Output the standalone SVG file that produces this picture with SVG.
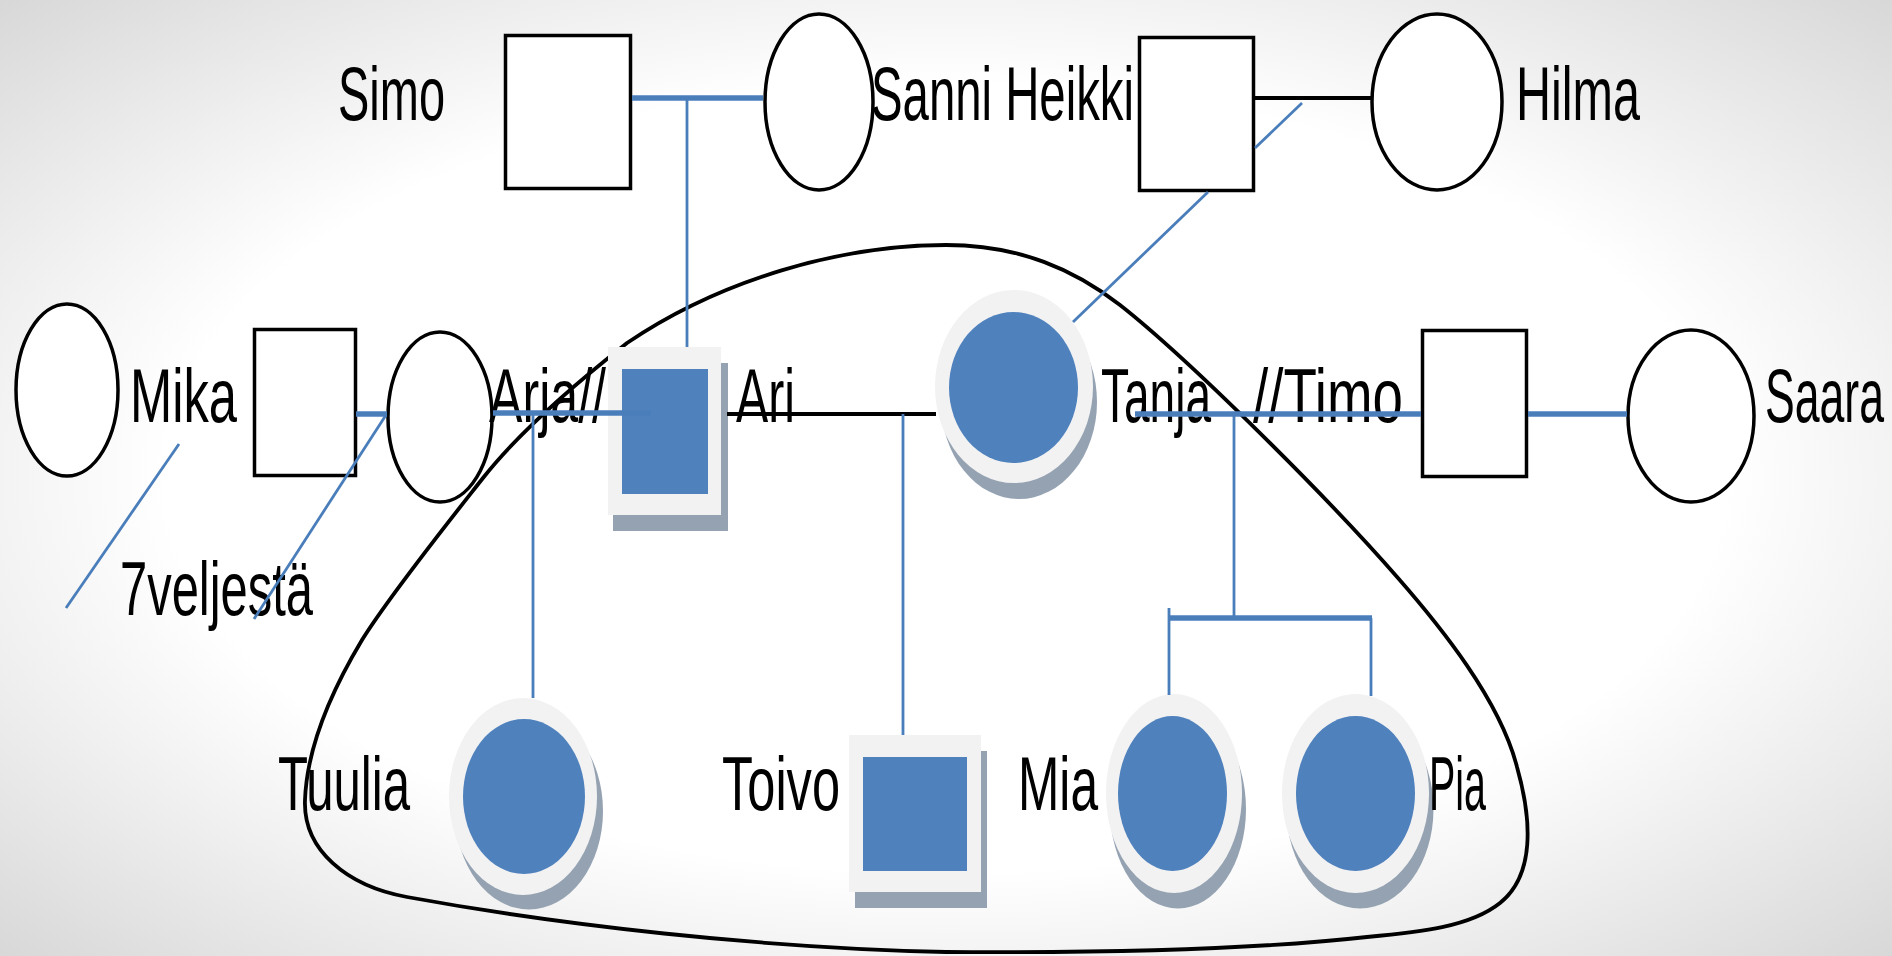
<svg xmlns="http://www.w3.org/2000/svg" width="1892" height="956" viewBox="0 0 1892 956">
<defs>
<radialGradient id="bg" cx="50%" cy="50%" r="75%">
<stop offset="0" stop-color="#ffffff"/>
<stop offset="0.55" stop-color="#ffffff"/>
<stop offset="1" stop-color="#d2d2d2"/>
</radialGradient>
<style>
.outline{fill:#ffffff;stroke:#000000;stroke-width:3.5}
.shadow{fill:#95a2b2}
.ring{fill:#f2f2f2}
.fill{fill:#4f81bd}
.lbl{font-family:"Liberation Sans",Arial,sans-serif;font-size:76px;fill:#000000}
.thick{stroke:#4a7ebb;stroke-width:5.5;fill:none}
.thin{stroke:#4a7ebb;stroke-width:2.8;fill:none}
.black{stroke:#000000;stroke-width:4;fill:none}
</style>
</defs>
<rect x="0" y="0" width="1892" height="956" fill="url(#bg)"/>

<g id="household">
<path d="M946,245 C1020,245 1075,270 1120,305 C1190,360 1330,500 1398,578 C1440,626 1500,700 1517,767 C1532,820 1535,875 1500,903 C1470,927 1420,932 1367,937 C1250,950 1100,953 946,952 C760,948 560,925 407,897 C347,886 303,850 305,800 C307,745 335,685 362,640 C390,595 450,520 483,478 C520,431 580,380 627,343 C720,280 840,245 946,245 Z" fill="none" stroke="#000000" stroke-width="3.8"/>
</g>

<g id="simo">
<rect class="outline" x="505.5" y="35.5" width="125" height="153"/>
<text class="lbl" x="338" y="120" textLength="107" lengthAdjust="spacingAndGlyphs">Simo</text>
</g>
<g id="sanni">
<ellipse class="outline" cx="819" cy="102" rx="54" ry="88"/>
<text class="lbl" x="871" y="120" textLength="263" lengthAdjust="spacingAndGlyphs">Sanni Heikki</text>
</g>
<g id="heikki">
<rect class="outline" x="1139.5" y="37.5" width="114" height="153"/>
</g>
<g id="hilma">
<ellipse class="outline" cx="1437" cy="102" rx="65" ry="88"/>
<text class="lbl" x="1516" y="120" textLength="124" lengthAdjust="spacingAndGlyphs">Hilma</text>
</g>

<g id="mika">
<ellipse class="outline" cx="67" cy="390" rx="51" ry="86"/>
<text class="lbl" x="130" y="422" textLength="107" lengthAdjust="spacingAndGlyphs">Mika</text>
</g>
<g id="veljesta">
<rect class="outline" x="254.5" y="329.5" width="101" height="146"/>
<text class="lbl" x="120" y="615" textLength="193" lengthAdjust="spacingAndGlyphs">7veljestä</text>
</g>
<g id="arja">
<ellipse class="outline" cx="440" cy="417" rx="52" ry="85"/>
<text class="lbl" x="489" y="422" textLength="117" lengthAdjust="spacingAndGlyphs">Arja//</text>
</g>
<g id="ari">
<rect class="shadow" x="613" y="363" width="115" height="168"/>
<rect class="ring" x="608" y="347" width="113" height="168"/>
<rect class="fill" x="622" y="369" width="86" height="125"/>
<text class="lbl" x="736" y="422" textLength="59" lengthAdjust="spacingAndGlyphs">Ari</text>
</g>
<g id="tanja">
<ellipse class="shadow" cx="1019" cy="402" rx="78" ry="97"/>
<ellipse class="ring" cx="1014" cy="386.5" rx="79" ry="96.5"/>
<ellipse class="fill" cx="1013.5" cy="387.5" rx="64.5" ry="75.5"/>
<text class="lbl" x="1101" y="422" textLength="110" lengthAdjust="spacingAndGlyphs">Tanja</text>
</g>
<g id="timo">
<rect class="outline" x="1422.5" y="330.5" width="104" height="146"/>
<text class="lbl" x="1253" y="422" textLength="150" lengthAdjust="spacingAndGlyphs">//Timo</text>
</g>
<g id="saara">
<ellipse class="outline" cx="1691" cy="416" rx="63" ry="86"/>
<text class="lbl" x="1765" y="422" textLength="119" lengthAdjust="spacingAndGlyphs">Saara</text>
</g>

<g id="tuulia">
<ellipse class="shadow" cx="529" cy="811" rx="74" ry="98.5"/>
<ellipse class="ring" cx="523" cy="796.5" rx="74" ry="98.5"/>
<ellipse class="fill" cx="524" cy="796.5" rx="61" ry="77.5"/>
<text class="lbl" x="278" y="810" textLength="132" lengthAdjust="spacingAndGlyphs">Tuulia</text>
</g>
<g id="toivo">
<rect class="shadow" x="855" y="751" width="132" height="157"/>
<rect class="ring" x="849" y="735" width="132" height="157"/>
<rect class="fill" x="863" y="757" width="104" height="114"/>
<text class="lbl" x="722" y="810" textLength="118" lengthAdjust="spacingAndGlyphs">Toivo</text>
</g>
<g id="mia">
<ellipse class="shadow" cx="1178" cy="809" rx="68" ry="99.5"/>
<ellipse class="ring" cx="1174" cy="793.5" rx="68" ry="99.5"/>
<ellipse class="fill" cx="1172.5" cy="793.5" rx="54.5" ry="77.5"/>
<text class="lbl" x="1018" y="810" textLength="80" lengthAdjust="spacingAndGlyphs">Mia</text>
</g>
<g id="pia">
<ellipse class="shadow" cx="1360" cy="809" rx="73.5" ry="99.5"/>
<ellipse class="ring" cx="1355.5" cy="793.5" rx="73.5" ry="99.5"/>
<ellipse class="fill" cx="1355.5" cy="793.5" rx="59.5" ry="77.5"/>
<text class="lbl" x="1429" y="810" textLength="57" lengthAdjust="spacingAndGlyphs">Pia</text>
</g>

<g id="connectors">
<line class="thick" x1="632" y1="98" x2="763" y2="98"/>
<line class="thin" x1="687" y1="98" x2="687" y2="347"/>
<line class="black" x1="1255" y1="98" x2="1373" y2="98"/>
<line class="thin" x1="1302" y1="103" x2="1255" y2="148"/>
<line class="thin" x1="1208" y1="192" x2="1073" y2="322"/>
<line class="thin" x1="179" y1="444" x2="66" y2="608"/>
<line class="thin" x1="386" y1="415" x2="254" y2="619"/>
<line class="thick" x1="356" y1="414" x2="387" y2="414"/>
<line class="thick" x1="493" y1="413" x2="651" y2="413"/>
<line class="thin" x1="533" y1="413" x2="533" y2="698"/>
<line class="black" x1="727" y1="414" x2="936" y2="414"/>
<line class="thin" x1="903" y1="414" x2="903" y2="735"/>
<line class="thick" x1="1135" y1="414" x2="1421" y2="414"/>
<line class="thin" x1="1234" y1="414" x2="1234" y2="617"/>
<line class="thick" x1="1169" y1="618" x2="1372" y2="618"/>
<line class="thin" x1="1169" y1="608" x2="1169" y2="695"/>
<line class="thin" x1="1371" y1="618" x2="1371" y2="696"/>
<line class="thick" x1="1528" y1="414" x2="1627" y2="414"/>
</g>
</svg>
